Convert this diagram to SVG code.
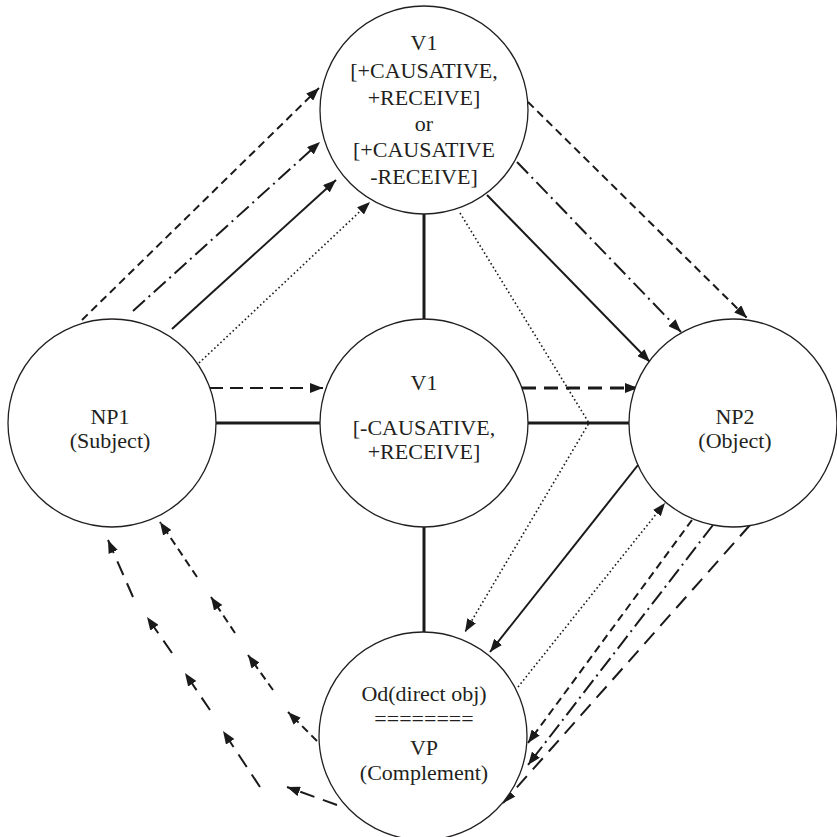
<svg xmlns="http://www.w3.org/2000/svg" width="837" height="837" viewBox="0 0 837 837">
  <style>
    .node circle { fill: #ffffff; stroke: #231f20; stroke-width: 1.3; }
    .node text { font-family: "Liberation Serif", "Times New Roman", serif; font-size: 22px; fill: #231f20; text-anchor: middle; }
    .link { fill: none; stroke: #1a1a1a; }
    .thick { stroke-width: 3; }
    .solid { stroke-width: 2; }
    .dash { stroke-width: 2; stroke-dasharray: 8 5; }
    .dashdot { stroke-width: 2; stroke-dasharray: 16 5 2 5; }
    .longdash { stroke-width: 2; stroke-dasharray: 15 9; }
    .hdash { stroke-width: 2; stroke-dasharray: 13 7; }
    .hdash-bold { stroke-width: 3; stroke-dasharray: 14 8; }
    .dot { stroke-width: 1.6; stroke-dasharray: 1.6 2.6; }
    .arrow { marker-end: url(#head); }
  </style>
  <defs>
    <marker id="head" markerUnits="userSpaceOnUse" markerWidth="14" markerHeight="10" refX="13" refY="5" orient="auto">
      <path d="M0,0 L13,5 L0,10 z" fill="#1a1a1a"/>
    </marker>
  </defs>

  <rect width="837" height="837" fill="#ffffff"/>

  <!-- connectors -->
  <g id="connectors">
    <!-- plain links to the central V1 -->
    <line class="link thick" x1="424" y1="214" x2="424" y2="319"/>
    <line class="link thick" x1="424" y1="527" x2="424" y2="632"/>
    <line class="link thick" x1="215" y1="423" x2="320" y2="423"/>
    <line class="link thick" x1="528" y1="423" x2="630" y2="423"/>

    <!-- horizontal arrows through the middle -->
    <line class="link hdash arrow" x1="210" y1="388" x2="323" y2="388"/>
    <line class="link hdash-bold arrow" x1="522" y1="388" x2="638" y2="388"/>

    <!-- NP1 to upper V1 -->
    <line class="link dash arrow" x1="82" y1="320" x2="319" y2="88"/>
    <line class="link dashdot arrow" x1="133" y1="311" x2="320" y2="142"/>
    <line class="link solid arrow" x1="172" y1="329" x2="336" y2="180"/>
    <line class="link dot arrow" x1="199" y1="363" x2="370" y2="202"/>

    <!-- upper V1 to NP2 -->
    <line class="link dash arrow" x1="528" y1="102" x2="747" y2="318"/>
    <line class="link dashdot arrow" x1="517" y1="162" x2="681" y2="332"/>
    <line class="link solid arrow" x1="487" y1="195" x2="650" y2="362"/>

    <!-- upper V1 bending down to Od/VP -->
    <polyline class="link dot arrow" points="460,213 589,423 465,632"/>

    <!-- NP2 and Od/VP -->
    <line class="link solid arrow" x1="638" y1="465" x2="490" y2="652"/>
    <line class="link dot arrow" x1="518" y1="687" x2="665" y2="503"/>
    <line class="link dash arrow" x1="692" y1="520" x2="528" y2="743"/>
    <line class="link dashdot arrow" x1="713" y1="525" x2="528" y2="765"/>
    <line class="link longdash arrow" x1="750" y1="525" x2="503" y2="803"/>

    <!-- Od/VP back to NP1, short-dash chain -->
    <line class="link dash arrow" x1="317" y1="741" x2="288" y2="712"/>
    <line class="link dash arrow" x1="273" y1="690" x2="248" y2="655"/>
    <line class="link dash arrow" x1="235" y1="633" x2="211" y2="597"/>
    <line class="link dash arrow" x1="197" y1="577" x2="160" y2="522"/>

    <!-- Od/VP back to NP1, long-dash chain -->
    <line class="link longdash arrow" x1="337" y1="805" x2="287" y2="787"/>
    <line class="link longdash arrow" x1="260" y1="787" x2="223" y2="731"/>
    <line class="link longdash arrow" x1="210" y1="710" x2="185" y2="673"/>
    <line class="link longdash arrow" x1="172" y1="653" x2="147" y2="617"/>
    <line class="link longdash arrow" x1="133" y1="597" x2="108" y2="540"/>
  </g>

  <!-- nodes -->
  <g id="v1-top" class="node">
    <circle cx="424" cy="110" r="104"/>
    <text x="424" y="50">V1</text>
    <text x="424" y="78">[+CAUSATIVE,</text>
    <text x="424" y="105">+RECEIVE]</text>
    <text x="424" y="131">or</text>
    <text x="424" y="157">[+CAUSATIVE</text>
    <text x="424" y="184">-RECEIVE]</text>
  </g>

  <g id="np1" class="node">
    <circle cx="112" cy="423" r="104"/>
    <text x="110" y="424">NP1</text>
    <text x="110" y="448">(Subject)</text>
  </g>

  <g id="v1-mid" class="node">
    <circle cx="424" cy="423" r="104"/>
    <text x="424" y="390">V1</text>
    <text x="424" y="435">[-CAUSATIVE,</text>
    <text x="424" y="459">+RECEIVE]</text>
  </g>

  <g id="np2" class="node">
    <circle cx="733" cy="423" r="104"/>
    <text x="735" y="424">NP2</text>
    <text x="735" y="448">(Object)</text>
  </g>

  <g id="od-vp" class="node">
    <circle cx="423" cy="736" r="104"/>
    <text x="424" y="701">Od(direct obj)</text>
    <text x="424" y="726">========</text>
    <text x="424" y="755">VP</text>
    <text x="424" y="780">(Complement)</text>
  </g>
</svg>
